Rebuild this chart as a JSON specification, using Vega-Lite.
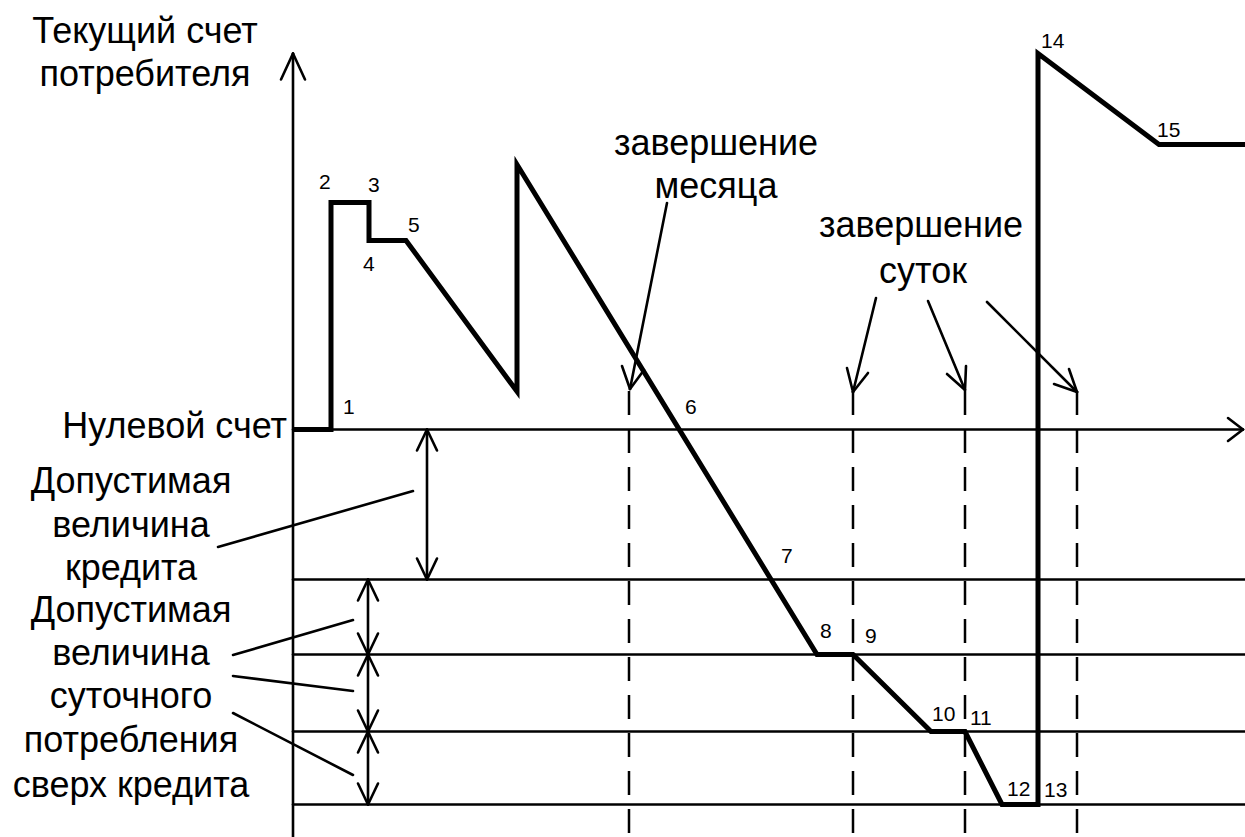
{
  "$schema": "https://vega.github.io/schema/vega-lite/v6.json",
  "width": 1245,
  "height": 837,
  "autosize": "none",
  "padding": 0,
  "background": "white",
  "config": {"view": {"stroke": null}},
  "datasets": {
    "segs": [
      {"t1": 0, "v1": -407.5, "t2": 0, "v2": 376},
      {"t1": 0, "v1": 0, "t2": 950, "v2": 0},
      {"t1": 0, "v1": -150, "t2": 952, "v2": -150},
      {"t1": 0, "v1": -225, "t2": 952, "v2": -225},
      {"t1": 0, "v1": -302, "t2": 952, "v2": -302},
      {"t1": 0, "v1": -375, "t2": 952, "v2": -375},
      {"t1": 0, "v1": 376, "t2": -12, "v2": 350},
      {"t1": 0, "v1": 376, "t2": 12, "v2": 350},
      {"t1": 950, "v1": 0, "t2": 935, "v2": 11.5},
      {"t1": 950, "v1": 0, "t2": 935, "v2": -11.5},
      {"t1": 374, "v1": 226.5, "t2": 337, "v2": 40.5},
      {"t1": 337, "v1": 40.5, "t2": 329, "v2": 63.5},
      {"t1": 337, "v1": 40.5, "t2": 351, "v2": 59.5},
      {"t1": 583, "v1": 131.5, "t2": 560, "v2": 37.5},
      {"t1": 560, "v1": 37.5, "t2": 554, "v2": 61.5},
      {"t1": 560, "v1": 37.5, "t2": 575, "v2": 56.5},
      {"t1": 635, "v1": 128.5, "t2": 672, "v2": 39.5},
      {"t1": 672, "v1": 39.5, "t2": 654, "v2": 55.5},
      {"t1": 672, "v1": 39.5, "t2": 673, "v2": 63.5},
      {"t1": 694, "v1": 127.5, "t2": 784, "v2": 37.5},
      {"t1": 784, "v1": 37.5, "t2": 761, "v2": 45.5},
      {"t1": 784, "v1": 37.5, "t2": 776, "v2": 60.5},
      {"t1": 134, "v1": 0, "t2": 134, "v2": -150},
      {"t1": 134, "v1": 0, "t2": 124, "v2": -21},
      {"t1": 134, "v1": 0, "t2": 144, "v2": -21},
      {"t1": 134, "v1": -150, "t2": 124, "v2": -129},
      {"t1": 134, "v1": -150, "t2": 144, "v2": -129},
      {"t1": 75, "v1": -150, "t2": 75, "v2": -375},
      {"t1": 75, "v1": -150, "t2": 65, "v2": -171},
      {"t1": 75, "v1": -150, "t2": 85, "v2": -171},
      {"t1": 75, "v1": -225, "t2": 65, "v2": -204},
      {"t1": 75, "v1": -225, "t2": 85, "v2": -204},
      {"t1": 75, "v1": -225, "t2": 65, "v2": -246},
      {"t1": 75, "v1": -225, "t2": 85, "v2": -246},
      {"t1": 75, "v1": -302, "t2": 65, "v2": -281},
      {"t1": 75, "v1": -302, "t2": 85, "v2": -281},
      {"t1": 75, "v1": -302, "t2": 65, "v2": -323},
      {"t1": 75, "v1": -302, "t2": 85, "v2": -323},
      {"t1": 75, "v1": -375, "t2": 65, "v2": -354},
      {"t1": 75, "v1": -375, "t2": 85, "v2": -354},
      {"t1": -75, "v1": -117.5, "t2": 120, "v2": -61.5},
      {"t1": -60, "v1": -225.5, "t2": 60, "v2": -190.5},
      {"t1": -60, "v1": -246.5, "t2": 60, "v2": -261.5},
      {"t1": -60, "v1": -283.5, "t2": 60, "v2": -345.5}
    ],
    "dashed": [
      {"t1": 336, "v1": 38.5, "t2": 336, "v2": -407.5},
      {"t1": 560, "v1": 38.5, "t2": 560, "v2": -407.5},
      {"t1": 672, "v1": 38.5, "t2": 672, "v2": -407.5},
      {"t1": 784, "v1": 38.5, "t2": 784, "v2": -407.5}
    ],
    "account": [
      {"i": 1, "time": 0, "balance": 0},
      {"i": 2, "time": 38, "balance": 0},
      {"i": 3, "time": 38, "balance": 227},
      {"i": 4, "time": 76, "balance": 227},
      {"i": 5, "time": 76, "balance": 189},
      {"i": 6, "time": 113, "balance": 189},
      {"i": 7, "time": 224, "balance": 38},
      {"i": 8, "time": 224, "balance": 265},
      {"i": 9, "time": 524, "balance": -225},
      {"i": 10, "time": 560, "balance": -225},
      {"i": 11, "time": 638, "balance": -302},
      {"i": 12, "time": 672, "balance": -302},
      {"i": 13, "time": 709, "balance": -375},
      {"i": 14, "time": 745, "balance": -375},
      {"i": 15, "time": 745, "balance": 376},
      {"i": 16, "time": 866, "balance": 285},
      {"i": 17, "time": 952, "balance": 285}
    ],
    "labels": [
      {"t": -148, "v": 386.5, "text": "Текущий счет"},
      {"t": -148, "v": 343.5, "text": "потребителя"},
      {"t": 423, "v": 274.5, "text": "завершение"},
      {"t": 423, "v": 231.5, "text": "месяца"},
      {"t": 628, "v": 192.5, "text": "завершение"},
      {"t": 630, "v": 146.5, "text": "суток"},
      {"t": -162, "v": -63.5, "text": "Допустимая"},
      {"t": -162, "v": -107.5, "text": "величина"},
      {"t": -162, "v": -150.5, "text": "кредита"},
      {"t": -162, "v": -192.5, "text": "Допустимая"},
      {"t": -162, "v": -235.5, "text": "величина"},
      {"t": -162, "v": -278.5, "text": "суточного"},
      {"t": -162, "v": -322.5, "text": "потребления"},
      {"t": -162, "v": -367.5, "text": "сверх кредита"}
    ],
    "zeroLabel": [
      {"t": -6, "v": -8.5, "text": "Нулевой счет"}
    ],
    "points": [
      {"t": 50, "v": 15.5, "text": "1"},
      {"t": 26, "v": 240.5, "text": "2"},
      {"t": 75, "v": 237.5, "text": "3"},
      {"t": 70, "v": 158.5, "text": "4"},
      {"t": 115, "v": 197.5, "text": "5"},
      {"t": 392, "v": 15.5, "text": "6"},
      {"t": 488, "v": -133.5, "text": "7"},
      {"t": 527, "v": -208.5, "text": "8"},
      {"t": 572, "v": -213.5, "text": "9"},
      {"t": 639, "v": -291.5, "text": "10"},
      {"t": 677, "v": -295.5, "text": "11"},
      {"t": 714, "v": -366.5, "text": "12"},
      {"t": 751, "v": -367.5, "text": "13"},
      {"t": 748, "v": 381.5, "text": "14"},
      {"t": 864, "v": 292.5, "text": "15"}
    ]
  },
  "layer": [
    {
      "data": {"name": "dashed"},
      "mark": {"type": "rule", "color": "black", "strokeWidth": 2.5, "strokeDash": [24, 14]},
      "encoding": {
        "x": {"field": "t1", "type": "quantitative", "scale": {"domain": [-293, 952], "nice": false, "zero": false}, "axis": null},
        "y": {"field": "v1", "type": "quantitative", "scale": {"domain": [-407.5, 429.5], "nice": false, "zero": false}, "axis": null},
        "x2": {"field": "t2"},
        "y2": {"field": "v2"}
      }
    },
    {
      "data": {"name": "segs"},
      "mark": {"type": "rule", "color": "black", "strokeWidth": 2.6, "strokeCap": "round"},
      "encoding": {
        "x": {"field": "t1", "type": "quantitative", "scale": {"domain": [-293, 952], "nice": false, "zero": false}, "axis": null},
        "y": {"field": "v1", "type": "quantitative", "scale": {"domain": [-407.5, 429.5], "nice": false, "zero": false}, "axis": null},
        "x2": {"field": "t2"},
        "y2": {"field": "v2"}
      }
    },
    {
      "data": {"name": "account"},
      "mark": {"type": "line", "color": "black", "strokeWidth": 5, "strokeJoin": "miter"},
      "encoding": {
        "x": {"field": "time", "type": "quantitative", "scale": {"domain": [-293, 952], "nice": false, "zero": false}, "axis": null},
        "y": {"field": "balance", "type": "quantitative", "scale": {"domain": [-407.5, 429.5], "nice": false, "zero": false}, "axis": null},
        "order": {"field": "i", "type": "quantitative"}
      }
    },
    {
      "data": {"name": "labels"},
      "mark": {"type": "text", "font": "Liberation Sans", "fontSize": 36, "baseline": "alphabetic", "align": "center", "color": "black"},
      "encoding": {
        "x": {"field": "t", "type": "quantitative", "scale": {"domain": [-293, 952], "nice": false, "zero": false}, "axis": null},
        "y": {"field": "v", "type": "quantitative", "scale": {"domain": [-407.5, 429.5], "nice": false, "zero": false}, "axis": null},
        "text": {"field": "text"}
      }
    },
    {
      "data": {"name": "zeroLabel"},
      "mark": {"type": "text", "font": "Liberation Sans", "fontSize": 36, "baseline": "alphabetic", "align": "right", "color": "black"},
      "encoding": {
        "x": {"field": "t", "type": "quantitative", "scale": {"domain": [-293, 952], "nice": false, "zero": false}, "axis": null},
        "y": {"field": "v", "type": "quantitative", "scale": {"domain": [-407.5, 429.5], "nice": false, "zero": false}, "axis": null},
        "text": {"field": "text"}
      }
    },
    {
      "data": {"name": "points"},
      "mark": {"type": "text", "font": "Liberation Sans", "fontSize": 21, "baseline": "alphabetic", "align": "left", "color": "black"},
      "encoding": {
        "x": {"field": "t", "type": "quantitative", "scale": {"domain": [-293, 952], "nice": false, "zero": false}, "axis": null},
        "y": {"field": "v", "type": "quantitative", "scale": {"domain": [-407.5, 429.5], "nice": false, "zero": false}, "axis": null},
        "text": {"field": "text"}
      }
    }
  ]
}
